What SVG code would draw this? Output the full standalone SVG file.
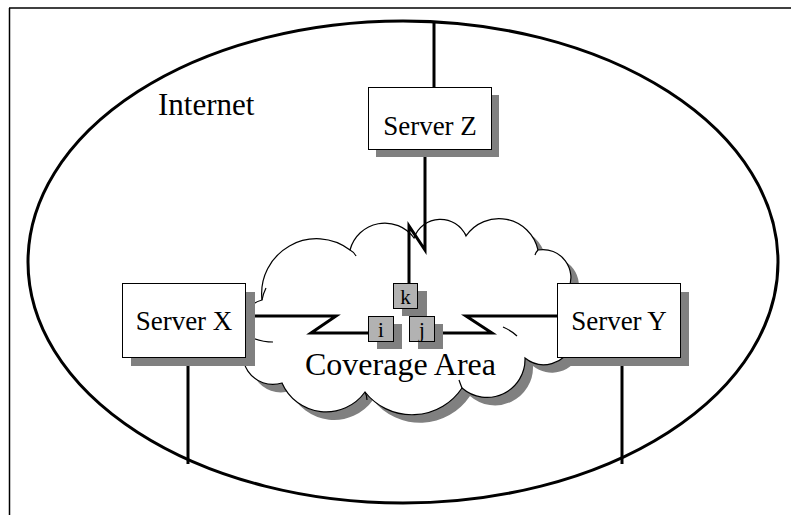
<svg xmlns="http://www.w3.org/2000/svg" width="791" height="515" viewBox="0 0 791 515">
<defs>
<style>
.lbl{font-family:"Liberation Serif","Times New Roman",serif;fill:#000}
.box{fill:#fff;stroke:#000;stroke-width:1}
.shadow{fill:#808080}
.sbox{fill:#b2b2b2;stroke:#000;stroke-width:1}
.wire{fill:none;stroke:#000;stroke-width:3;stroke-linejoin:miter}
.cloud{fill:#fff;stroke:#000;stroke-width:1.2}
.fold{fill:none;stroke:#000;stroke-width:1.2}
</style>
<path id="cloudPath" d="M262,300 A55,55 0 0 1 350,250 A36,36 0 0 1 414,238 A28,28 0 0 1 466,236 A40,40 0 0 1 538,250 A28,28 0 0 1 568,290 A35,35 0 0 1 572,345 A30,30 0 0 1 525,358 A38,38 0 0 1 462,388 A60,60 0 0 1 365,392 A48,48 0 0 1 282,383 A30,30 0 0 1 250,335 A22,22 0 0 1 262,300 Z"/>
</defs>
<rect width="791" height="515" fill="#fff"/>
<g id="frame">
<line x1="9" y1="8" x2="791" y2="8" stroke="#000" stroke-width="1.5"/>
<line x1="9.5" y1="8" x2="9.5" y2="515" stroke="#000" stroke-width="1.5"/>
</g>
<g id="internet">
<ellipse cx="403" cy="262" rx="375" ry="241" fill="none" stroke="#000" stroke-width="3"/>
<text class="lbl" x="158" y="115" font-size="31">Internet</text>
</g>
<g id="coverage-area">
<use href="#cloudPath" class="shadow" transform="translate(8,8)"/>
<use href="#cloudPath" class="cloud"/>
<path class="fold" d="M350,250 Q354,252 356,256"/>
<path class="fold" d="M262,300 Q263,294 266,288"/>
<path class="fold" d="M250,337 Q262,342 273,342"/>
<path class="fold" d="M503,327 Q512,331 517,336"/>
<path class="fold" d="M365,392 Q367,396 367,400"/>
<path class="fold" d="M462,388 Q460,383 459,380"/>
<path class="fold" d="M538,250 Q536,252 535,255"/>
<text class="lbl" x="305" y="375" font-size="32">Coverage Area</text>
</g>
<g id="connectors">
<line class="wire" x1="434" y1="21" x2="434" y2="87"/>
<polyline class="wire" points="425,148 425,250 409,226 409,283"/>
<polyline class="wire" points="245,316 336,316 311,333 368,333"/>
<polyline class="wire" points="557,316 466,316 492,333 434,333"/>
<line class="wire" x1="188" y1="357" x2="188" y2="464"/>
<line class="wire" x1="622" y1="357" x2="622" y2="464"/>
</g>
<g id="server-z">
<rect class="shadow" x="376" y="95" width="123" height="62"/>
<rect class="box" x="368.5" y="87.5" width="123" height="62"/>
<text class="lbl" x="430" y="135" font-size="27" text-anchor="middle">Server Z</text>
</g>
<g id="server-x">
<rect class="shadow" x="131" y="292" width="124" height="74"/>
<rect class="box" x="122.5" y="283.5" width="123" height="74"/>
<text class="lbl" x="184" y="330" font-size="27" text-anchor="middle">Server X</text>
</g>
<g id="server-y">
<rect class="shadow" x="565" y="292" width="124" height="74"/>
<rect class="box" x="557.5" y="283.5" width="123" height="74"/>
<text class="lbl" x="619" y="330" font-size="27" text-anchor="middle">Server Y</text>
</g>
<g id="node-k">
<rect class="shadow" x="402" y="291" width="25" height="25"/>
<rect class="sbox" x="393.5" y="283.5" width="24" height="25"/>
<text class="lbl" x="405.5" y="304" font-size="21" text-anchor="middle">k</text>
</g>
<g id="node-i">
<rect class="shadow" x="377" y="324" width="25" height="25"/>
<rect class="sbox" x="368.5" y="316.5" width="25" height="25"/>
<text class="lbl" x="381" y="337" font-size="21" text-anchor="middle">i</text>
</g>
<g id="node-j">
<rect class="shadow" x="418" y="324" width="25" height="25"/>
<rect class="sbox" x="409.5" y="316.5" width="25" height="25"/>
<text class="lbl" x="422" y="337" font-size="21" text-anchor="middle">j</text>
</g>
</svg>
